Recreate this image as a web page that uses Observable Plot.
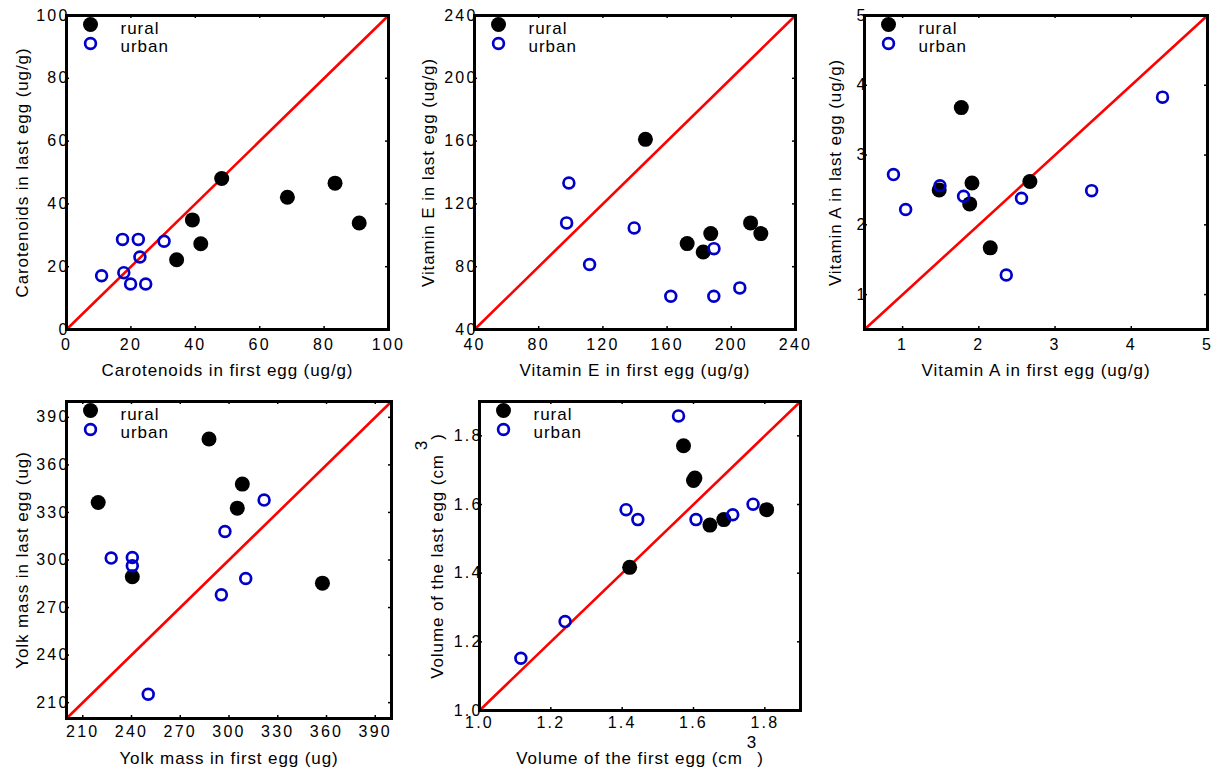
<!DOCTYPE html>
<html>
<head>
<meta charset="utf-8">
<script src="https://cdn.jsdelivr.net/npm/d3@7"></script>
<script src="https://cdn.jsdelivr.net/npm/@observablehq/plot@0.6"></script>
<style>
  html, body { margin: 0; padding: 0; background: white; }
  #wrap { position: relative; width: 1216px; height: 773px; background: white; overflow: hidden; }
  #wrap > div { position: absolute; }
  svg { overflow: visible; }
  svg g[aria-description="axis-title"] text { font-size: 17px !important; letter-spacing: 0.9px; }
  svg g[aria-description="legend-text"] text { font-size: 17px !important; letter-spacing: 1px; }
</style>
</head>
<body>
<div id="wrap"></div>
<script>
// ---------- Data ----------
// Carotenoids (ug/g)
const caroFirstRural = [48.2, 39.1, 41.7, 34.2, 68.6, 83.4, 90.9];
const caroLastRural  = [48.1, 34.9, 27.3, 22.2, 42.1, 46.6, 33.9];
const caroFirstUrban = [10.9, 17.4, 22.3, 30.3, 22.8, 17.8, 19.9, 24.6];
const caroLastUrban  = [17.1, 28.7, 28.7, 28.1, 23.1, 18.1, 14.5, 14.5];
const caroTicks = [0, 20, 40, 60, 80, 100];
const caroDomain = [0, 100];

// Vitamin E (ug/g)
const vitEFirstRural = [146.5, 172.5, 182.5, 187.2, 212.0, 218.4];
const vitELastRural  = [161.1, 94.7, 89.4, 101.1, 107.9, 101.1];
const vitEFirstUrban = [98.8, 97.4, 111.7, 139.5, 162.3, 189.1, 189.2, 205.3];
const vitELastUrban  = [133.3, 107.9, 81.4, 104.7, 61.2, 61.2, 91.5, 66.5];
const vitETicks = [40, 80, 120, 160, 200, 240];
const vitEDomain = [40, 240];

// Vitamin A (ug/g)
const vitAFirstRural = [1.77, 1.91, 1.88, 1.48, 2.15, 2.67];
const vitALastRural  = [3.68, 2.60, 2.30, 2.50, 1.67, 2.62];
const vitAFirstUrban = [0.88, 1.04, 1.49, 1.80, 2.56, 2.36, 3.48, 4.41];
const vitALastUrban  = [2.72, 2.22, 2.56, 2.41, 2.38, 1.28, 2.49, 3.83];
const vitATicks = [1, 2, 3, 4, 5];
const vitADomain = [0.5, 5];

// Yolk mass (ug)
const yolkFirstRural = [287.7, 308.2, 305.1, 219.5, 240.5, 357.5];
const yolkLastRural  = [376.3, 347.9, 332.7, 336.3, 289.4, 285.4];
const yolkFirstUrban = [227.5, 240.5, 240.5, 297.5, 321.6, 310.3, 295.3, 250.3];
const yolkLastUrban  = [301.2, 301.6, 296.3, 318.0, 337.8, 288.3, 278.0, 215.3];
const yolkTicks = [210, 240, 270, 300, 330, 360, 390];
const yolkDomain = [200, 400];

// Egg volume (cm3)
const volFirstRural = [1.572, 1.604, 1.600, 1.421, 1.646, 1.685, 1.805];
const volLastRural  = [1.771, 1.677, 1.670, 1.417, 1.540, 1.556, 1.585];
const volFirstUrban = [1.558, 1.411, 1.444, 1.240, 1.116, 1.607, 1.710, 1.767];
const volLastUrban  = [1.858, 1.585, 1.556, 1.259, 1.152, 1.556, 1.570, 1.601];
const volTicks = [1.0, 1.2, 1.4, 1.6, 1.8];
const volDomain = [1.0, 1.9];

const legendLabels = ["rural", "urban"];

// ---------- Styling ----------
const RED = "#ff0000";
const BLUE = "#0000c8";
const FONT = "'Liberation Sans', Arial, Helvetica, sans-serif";

function zip(xs, ys) { return xs.map((x, i) => ({x, y: ys[i]})); }

function panel(cfg) {
  const {left, top, width, height, mL, mR, mT, mB, domain, ticks, fmt,
         rural, urban, xlabel, ylabel, tickPad, xlabDy, ylabDx} = cfg;
  const innerW = width - mL - mR;
  const innerH = height - mT - mB;
  const tick = 3;
  const plot = Plot.plot({
    width, height,
    marginLeft: mL, marginRight: mR, marginTop: mT, marginBottom: mB,
    x: {domain},
    y: {domain},
    style: {fontFamily: FONT, fontSize: "16px", color: "black", background: "white", overflow: "visible"},
    marks: [
      Plot.line(domain, {x: d => d, y: d => d, stroke: RED, strokeWidth: 2.6}),
      Plot.dot(rural, {x: "x", y: "y", r: 7.5, fill: "black", stroke: "none"}),
      Plot.dot(urban, {x: "x", y: "y", r: 5.4, fill: "none", stroke: BLUE, strokeWidth: 2.7}),
      Plot.tickX(ticks, {x: d => d, insetTop: innerH - tick, strokeWidth: 1.5}),
      Plot.tickX(ticks, {x: d => d, insetBottom: innerH - tick, strokeWidth: 1.5}),
      Plot.tickY(ticks, {y: d => d, insetRight: innerW - tick, strokeWidth: 1.5}),
      Plot.tickY(ticks, {y: d => d, insetLeft: innerW - tick, strokeWidth: 1.5}),
      Plot.frame({stroke: "black", strokeWidth: 3}),
      Plot.axisX(ticks, {tickSize: 0, tickPadding: tickPad, tickFormat: fmt, label: null, fontSize: 16, ariaDescription: "tick-label"}),
      Plot.axisY(ticks, {tickSize: 0, tickPadding: -3, tickFormat: fmt, label: null, fontSize: 16, ariaDescription: "tick-label"}),
      // legend
      Plot.dot([legendLabels[0]], {frameAnchor: "top-left", dx: 24, dy: 9, r: 7.5, fill: "black"}),
      Plot.dot([legendLabels[1]], {frameAnchor: "top-left", dx: 24, dy: 28, r: 5.4, fill: "none", stroke: BLUE, strokeWidth: 2.7}),
      Plot.text([legendLabels[0]], {frameAnchor: "top-left", dx: 54, dy: 13, text: d => d, textAnchor: "start", lineAnchor: "middle", fontSize: 17, ariaDescription: "legend-text"}),
      Plot.text([legendLabels[1]], {frameAnchor: "top-left", dx: 54, dy: 31, text: d => d, textAnchor: "start", lineAnchor: "middle", fontSize: 17, ariaDescription: "legend-text"}),
      // axis titles
      Plot.text([xlabel], {frameAnchor: "bottom", dy: xlabDy, text: d => d, textAnchor: "middle", lineAnchor: "middle", fontSize: 17, ariaDescription: "axis-title"}),
      Plot.text([ylabel], {frameAnchor: "left", dx: ylabDx, rotate: -90, text: d => d, textAnchor: "middle", lineAnchor: "middle", fontSize: 17, ariaDescription: "axis-title"})
    ]
  });
  // widen the tick labels (the reference uses a wide sans face)
  d3.select(plot).selectAll("text").each(function() {
    const g = this.closest("g");
    const desc = g ? g.getAttribute("aria-description") : null;
    if (desc !== "axis-title" && desc !== "legend-text") {
      this.style.letterSpacing = "2.2px";
      this.style.fontSize = "16px";
    }
  });
  // superscript for cm³
  d3.select(plot).selectAll('g[aria-description="axis-title"] text').each(function() {
    const t = this.textContent;
    const i = t.indexOf("³");
    if (i >= 0) {
      const sel = d3.select(this);
      sel.text(t.slice(0, i));
      sel.append("tspan").attr("dy", "-0.95em").attr("dx", "4").text("3");
      sel.append("tspan").attr("dy", "0.95em").text(t.slice(i + 1));
    }
  });
  const holder = document.createElement("div");
  holder.style.left = left + "px";
  holder.style.top = top + "px";
  holder.appendChild(plot);
  document.getElementById("wrap").appendChild(holder);
}

panel({left: 0, top: 0, width: 405, height: 386, mL: 66, mR: 17, mT: 15, mB: 57,
  domain: caroDomain, ticks: caroTicks, fmt: d3.format("d"),
  rural: zip(caroFirstRural, caroLastRural), urban: zip(caroFirstUrban, caroLastUrban),
  xlabel: "Carotenoids in first egg (ug/g)", ylabel: "Carotenoids in last egg (ug/g)",
  tickPad: 9, xlabDy: 41, ylabDx: -44});

panel({left: 405, top: 0, width: 405, height: 386, mL: 69, mR: 15, mT: 15, mB: 57,
  domain: vitEDomain, ticks: vitETicks, fmt: d3.format("d"),
  rural: zip(vitEFirstRural, vitELastRural), urban: zip(vitEFirstUrban, vitELastUrban),
  xlabel: "Vitamin E in first egg (ug/g)", ylabel: "Vitamin E in last egg (ug/g)",
  tickPad: 9, xlabDy: 41, ylabDx: -46});

panel({left: 810, top: 0, width: 406, height: 386, mL: 54, mR: 9, mT: 15, mB: 57,
  domain: vitADomain, ticks: vitATicks, fmt: d3.format("d"),
  rural: zip(vitAFirstRural, vitALastRural), urban: zip(vitAFirstUrban, vitALastUrban),
  xlabel: "Vitamin A in first egg (ug/g)", ylabel: "Vitamin A in last egg (ug/g)",
  tickPad: 9, xlabDy: 41, ylabDx: -29});

panel({left: 0, top: 390, width: 405, height: 383, mL: 66, mR: 14, mT: 11, mB: 55,
  domain: yolkDomain, ticks: yolkTicks, fmt: d3.format("d"),
  rural: zip(yolkFirstRural, yolkLastRural), urban: zip(yolkFirstUrban, yolkLastUrban),
  xlabel: "Yolk mass in first egg (ug)", ylabel: "Yolk mass in last egg (ug)",
  tickPad: 7, xlabDy: 40, ylabDx: -44});

panel({left: 405, top: 390, width: 405, height: 383, mL: 74, mR: 10, mT: 11, mB: 63,
  domain: volDomain, ticks: volTicks, fmt: d3.format(".1f"),
  rural: zip(volFirstRural, volLastRural), urban: zip(volFirstUrban, volLastUrban),
  xlabel: "Volume of the first egg (cm³)", ylabel: "Volume of the last egg (cm³)",
  tickPad: 6, xlabDy: 48, ylabDx: -42});
</script>
</body>
</html>
